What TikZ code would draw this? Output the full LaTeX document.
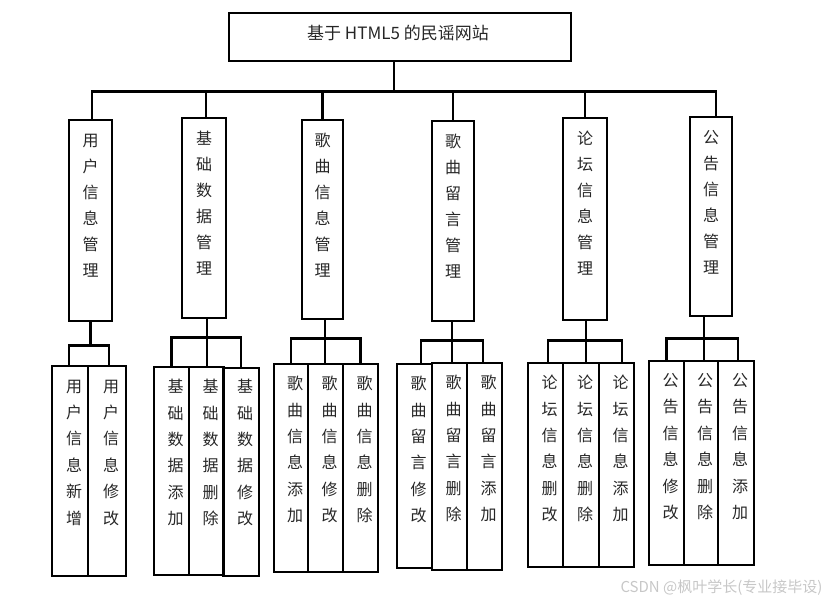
\documentclass[tikz,border=0pt]{standalone}
\usepackage{fontspec}
\newfontfamily\cjk{Noto Sans CJK SC}
\begin{document}
\begin{tikzpicture}[x=1pt,y=-1pt,
  frame/.style={draw,line width=2.8pt,inner sep=0pt},
  link/.style={line width=2.8pt},
  headtext/.style={font=\cjk\fontsize{16}{26}\selectfont,align=center,inner sep=0pt,text=black!85},
  subtext/.style={font=\cjk\fontsize{16}{26.4}\selectfont,align=center,inner sep=0pt,text=black!85}]
\useasboundingbox (0,0) rectangle (835,605);
\node[frame,minimum width=342,minimum height=48] (site) at (400,37) {};
\node[font=\cjk\fontsize{17}{20}\selectfont,text=black!85] (sitetext) at (398,33) {基于 HTML5 的民谣网站};
\node[frame,minimum width=43,minimum height=201] (user) at (90.5,220.5) {};
\node[frame,minimum width=44,minimum height=200] (base) at (204,218) {};
\node[frame,minimum width=41,minimum height=199] (song) at (322.5,219.5) {};
\node[frame,minimum width=42,minimum height=200] (msg) at (453,221) {};
\node[frame,minimum width=44,minimum height=202] (forum) at (585,219) {};
\node[frame,minimum width=42,minimum height=199] (notice) at (711,216.5) {};
\node[headtext] at ([yshift=-87pt]user.north) {用\\户\\信\\息\\管\\理};
\node[headtext] at ([yshift=-87pt]base.north) {基\\础\\数\\据\\管\\理};
\node[headtext] at ([yshift=-87pt]song.north) {歌\\曲\\信\\息\\管\\理};
\node[headtext] at ([yshift=-87pt]msg.north) {歌\\曲\\留\\言\\管\\理};
\node[headtext] at ([yshift=-87pt]forum.north) {论\\坛\\信\\息\\管\\理};
\node[headtext] at ([yshift=-87pt]notice.north) {公\\告\\信\\息\\管\\理};
\node[frame,minimum width=36,minimum height=210] (useradd) at (70,471) {};
\node[frame,minimum width=38,minimum height=210] (useredit) at (107,471) {};
\node[frame,minimum width=35,minimum height=208] (baseadd) at (171.5,471) {};
\node[frame,minimum width=35,minimum height=208] (basedel) at (206.5,471) {};
\node[frame,minimum width=36,minimum height=208] (baseedit) at (241,472) {};
\node[frame,minimum width=34,minimum height=208] (songadd) at (291,468) {};
\node[frame,minimum width=35,minimum height=208] (songedit) at (325.5,468) {};
\node[frame,minimum width=35,minimum height=208] (songdel) at (360.5,468) {};
\node[frame,minimum width=35,minimum height=204] (msgedit) at (414.5,466) {};
\node[frame,minimum width=35,minimum height=207] (msgdel) at (449.5,466.5) {};
\node[frame,minimum width=35,minimum height=207] (msgadd) at (484.5,466.5) {};
\node[frame,minimum width=35,minimum height=204] (forumedit) at (545.5,465) {};
\node[frame,minimum width=36,minimum height=204] (forumdel) at (581,465) {};
\node[frame,minimum width=35,minimum height=204] (forumadd) at (616.5,465) {};
\node[frame,minimum width=35,minimum height=204] (noticeedit) at (666.5,463) {};
\node[frame,minimum width=34,minimum height=204] (noticedel) at (701,463) {};
\node[frame,minimum width=36,minimum height=204] (noticeadd) at (736,463) {};
\node[subtext] at ([xshift=4pt,yshift=-88pt]useradd.north) {用\\户\\信\\息\\新\\增};
\node[subtext] at ([xshift=4pt,yshift=-88pt]useredit.north) {用\\户\\信\\息\\修\\改};
\node[subtext] at ([xshift=4pt,yshift=-87pt]baseadd.north) {基\\础\\数\\据\\添\\加};
\node[subtext] at ([xshift=4pt,yshift=-87pt]basedel.north) {基\\础\\数\\据\\删\\除};
\node[subtext] at ([xshift=4pt,yshift=-86pt]baseedit.north) {基\\础\\数\\据\\修\\改};
\node[subtext] at ([xshift=4pt,yshift=-87pt]songadd.north) {歌\\曲\\信\\息\\添\\加};
\node[subtext] at ([xshift=4pt,yshift=-87pt]songedit.north) {歌\\曲\\信\\息\\修\\改};
\node[subtext] at ([xshift=4pt,yshift=-87pt]songdel.north) {歌\\曲\\信\\息\\删\\除};
\node[subtext] at ([xshift=4pt,yshift=-87pt]msgedit.north) {歌\\曲\\留\\言\\修\\改};
\node[subtext] at ([xshift=4pt,yshift=-87pt]msgdel.north) {歌\\曲\\留\\言\\删\\除};
\node[subtext] at ([xshift=4pt,yshift=-87pt]msgadd.north) {歌\\曲\\留\\言\\添\\加};
\node[subtext] at ([xshift=4pt,yshift=-87pt]forumedit.north) {论\\坛\\信\\息\\删\\改};
\node[subtext] at ([xshift=4pt,yshift=-87pt]forumdel.north) {论\\坛\\信\\息\\删\\除};
\node[subtext] at ([xshift=4pt,yshift=-87pt]forumadd.north) {论\\坛\\信\\息\\添\\加};
\node[subtext] at ([xshift=4pt,yshift=-87pt]noticeedit.north) {公\\告\\信\\息\\修\\改};
\node[subtext] at ([xshift=4pt,yshift=-87pt]noticedel.north) {公\\告\\信\\息\\删\\除};
\node[subtext] at ([xshift=4pt,yshift=-87pt]noticeadd.north) {公\\告\\信\\息\\添\\加};
\draw[link] ([xshift=-6pt]site.south) -- ++(0,29) -| ([xshift=1.5pt]user.north);
\draw[link] ([xshift=-6pt]site.south) -- ++(0,29) -| ([xshift=2pt]base.north);
\draw[link] ([xshift=-6pt]site.south) -- ++(0,29) -| (song.north);
\draw[link] ([xshift=-6pt]site.south) -- ++(0,29) -| (msg.north);
\draw[link] ([xshift=-6pt]site.south) -- ++(0,29) -| (forum.north);
\draw[link] ([xshift=-6pt]site.south) -- ++(0,29) -| ([xshift=5pt]notice.north);
\draw[link] (user.south) -- ++(0,23) -| ([xshift=-1pt]useradd.north);
\draw[link] (user.south) -- ++(0,23) -| ([xshift=2pt]useredit.north);
\draw[link] ([xshift=3pt]base.south) -- ++(0,18) -| (baseadd.north);
\draw[link] ([xshift=3pt]base.south) -- ++(0,18) -| (baseedit.north);
\draw[link] ([xshift=3pt]base.south) -- ([xshift=3pt]base.south |- basedel.north);
\draw[link] ([xshift=2.5pt]song.south) -- ++(0,18) -| (songadd.north);
\draw[link] ([xshift=2.5pt]song.south) -- ++(0,18) -| (songdel.north);
\draw[link] ([xshift=2.5pt]song.south) -- ([xshift=2.5pt]song.south |- songedit.north);
\draw[link] ([xshift=-1pt]msg.south) -- ++(0,18) -| ([xshift=6.5pt]msgedit.north);
\draw[link] ([xshift=-1pt]msg.south) -- ++(0,18) -| ([xshift=-1.5pt]msgadd.north);
\draw[link] ([xshift=-1pt]msg.south) -- ([xshift=-1pt]msg.south |- msgdel.north);
\draw[link] ([xshift=1pt]forum.south) -- ++(0,19) -| ([xshift=2.5pt]forumedit.north);
\draw[link] ([xshift=1pt]forum.south) -- ++(0,19) -| ([xshift=5.5pt]forumadd.north);
\draw[link] ([xshift=1pt]forum.south) -- ([xshift=1pt]forum.south |- forumdel.north);
\draw[link] ([xshift=-7pt]notice.south) -- ++(0,21) -| (noticeedit.north);
\draw[link] ([xshift=-7pt]notice.south) -- ++(0,21) -| ([xshift=2pt]noticeadd.north);
\draw[link] ([xshift=-7pt]notice.south) -- ([xshift=-7pt]notice.south |- noticedel.north);
\node[font=\cjk\fontsize{15}{18}\selectfont,text=black!22,anchor=east] (mark) at (826,588) {CSDN @枫叶学长(专业接毕设)};
\end{tikzpicture}
\end{document}
